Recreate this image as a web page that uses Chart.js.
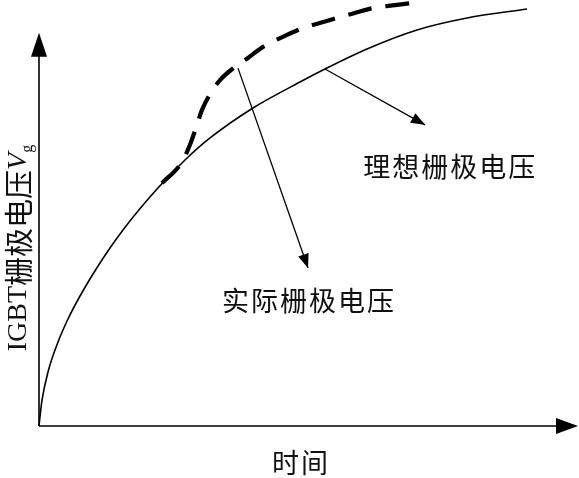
<!DOCTYPE html>
<html>
<head>
<meta charset="utf-8">
<script src="https://cdn.jsdelivr.net/npm/chart.js@4.4.0/dist/chart.umd.min.js"></script>
<style>
  html, body { margin: 0; padding: 0; background: #fff; }
  #wrap { width: 579px; height: 478px; position: relative; }
</style>
</head>
<body>
<div id="wrap"><canvas id="gate-chart"></canvas></div>
<script>
// Ideal gate voltage (solid curve), x = time, y = voltage (0..100 units)
const idealX = [0, 0.28, 0.56, 1.67, 3.53, 5.38, 7.61, 10.95, 15.58, 21.89, 27.09, 31.73, 39.70, 48.42, 53.06, 60.85, 70.13, 79.41, 90.54];
const idealY = [0, 3.29, 6.10, 12.68, 19.72, 25.12, 30.52, 37.56, 46.01, 55.63, 62.44, 67.61, 74.65, 80.75, 83.80, 88.50, 92.96, 95.77, 97.89];

// Actual gate voltage (dashed curve)
const actualX = [22.82, 26.53, 28.01, 29.31, 30.24, 31.73, 33.58, 36.36, 38.78, 41.56, 46.01, 48.98, 53.99, 57.33, 61.97, 66.05, 70.69];
const actualY = [57.0, 62.0, 66.0, 70.7, 74.2, 77.9, 81.2, 84.3, 86.4, 89.0, 91.8, 93.4, 95.3, 96.5, 98.1, 98.8, 99.5];

// Pointer arrows: [fromX, fromY, toX, toY]
const arrowIdeal = [53.06, 83.8, 71.61, 70.7];
const arrowActual = [36.92, 84.0, 49.91, 37.1];

// Text labels
const labelIdeal = ['理想栅极电压', 76.1, 60.8];
const labelActual = ['实际栅极电压', 49.9, 29.3];
const xTitle = ['时间', 48.4, -8.7];

// Axis arrow ends
const xAxisEnd = 100;
const yAxisEnd = 92.3;

const toPoints = (xs, ys) => xs.map((x, i) => ({ x: x, y: ys[i] }));

function arrowHead(ctx, x0, y0, x1, y1, len, half) {
  const a = Math.atan2(y1 - y0, x1 - x0);
  ctx.beginPath();
  ctx.moveTo(x1, y1);
  ctx.lineTo(x1 - len * Math.cos(a) + half * Math.sin(a), y1 - len * Math.sin(a) - half * Math.cos(a));
  ctx.lineTo(x1 - len * Math.cos(a) - half * Math.sin(a), y1 - len * Math.sin(a) + half * Math.cos(a));
  ctx.closePath();
  ctx.fill();
}

const decorPlugin = {
  id: 'decor',
  afterDatasetsDraw(chart) {
    const ctx = chart.ctx;
    const xs = chart.scales.x, ys = chart.scales.y;
    const px = v => xs.getPixelForValue(v);
    const py = v => ys.getPixelForValue(v);
    ctx.save();
    ctx.strokeStyle = '#000';
    ctx.fillStyle = '#000';
    ctx.lineWidth = 1.6;

    // axes
    const ox = px(0), oy = py(0);
    ctx.beginPath();
    ctx.moveTo(ox, oy); ctx.lineTo(px(xAxisEnd) - 10, oy);
    ctx.moveTo(ox, oy); ctx.lineTo(ox, py(yAxisEnd) + 10);
    ctx.stroke();
    arrowHead(ctx, ox, oy, px(xAxisEnd), oy, 22, 8);
    arrowHead(ctx, ox, oy, ox, py(yAxisEnd), 24, 8);

    // pointer arrows
    ctx.lineWidth = 1.3;
    [arrowIdeal, arrowActual].forEach(a => {
      const x0 = px(a[0]), y0 = py(a[1]), x1 = px(a[2]), y1 = py(a[3]);
      ctx.beginPath();
      ctx.moveTo(x0, y0); ctx.lineTo(x1, y1);
      ctx.stroke();
      arrowHead(ctx, x0, y0, x1, y1, 14, 5.5);
    });

    // labels
    ctx.fillStyle = '#111';
    ctx.textAlign = 'center';
    ctx.textBaseline = 'middle';
    ctx.font = '27px "Noto Sans CJK SC"';
    ctx.letterSpacing = '2px';
    [labelIdeal, labelActual, xTitle].forEach(l => {
      ctx.fillText(l[0], px(l[1]) + 1, py(l[2]));
    });
    ctx.letterSpacing = '0px';

    // y title, rotated, with italic V and subscript g
    const parts = [
      ['IGBT', '28px "Liberation Serif"', 0],
      ['栅极电压', '29px "Noto Sans CJK SC"', 0],
      ['V', 'italic 28px "Liberation Serif"', 0],
      ['g', '16px "Liberation Serif"', 9]
    ];
    let total = 0;
    parts.forEach(p => { ctx.font = p[1]; total += ctx.measureText(p[0]).width; });
    ctx.translate(19, 248);
    ctx.rotate(-Math.PI / 2);
    ctx.textAlign = 'left';
    let cx = -total / 2;
    parts.forEach(p => {
      ctx.font = p[1];
      ctx.fillText(p[0], cx, p[2]);
      cx += ctx.measureText(p[0]).width;
    });
    ctx.restore();
  }
};

new Chart(document.getElementById('gate-chart').getContext('2d'), {
  type: 'line',
  data: {
    datasets: [
      {
        label: '理想栅极电压',
        data: toPoints(idealX, idealY),
        borderColor: '#000',
        borderWidth: 1.6,
        pointRadius: 0,
        cubicInterpolationMode: 'monotone',
        clip: false
      },
      {
        label: '实际栅极电压',
        data: toPoints(actualX, actualY),
        borderColor: '#000',
        borderWidth: 4.2,
        borderDash: [24, 14],
        borderCapStyle: 'butt',
        pointRadius: 0,
        cubicInterpolationMode: 'monotone',
        clip: false
      }
    ]
  },
  options: {
    responsive: true,
    maintainAspectRatio: false,
    animation: false,
    layout: { padding: { left: 39, right: 1, top: 0, bottom: 52 } },
    scales: {
      x: { type: 'linear', min: 0, max: 100, display: false },
      y: { type: 'linear', min: 0, max: 100, display: false }
    },
    plugins: {
      legend: { display: false },
      tooltip: { enabled: false }
    }
  },
  plugins: [decorPlugin]
});
</script>
</body>
</html>
